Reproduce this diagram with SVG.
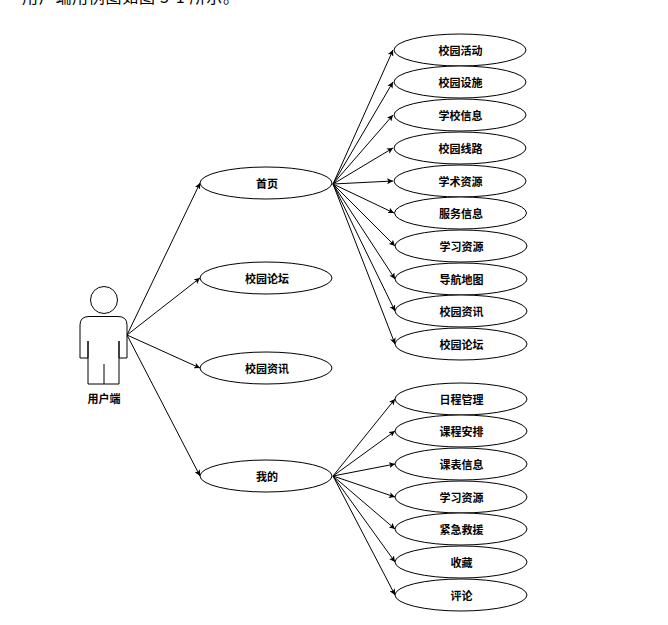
<svg xmlns="http://www.w3.org/2000/svg" width="668" height="625" viewBox="0 0 668 625">
<style>
text{font-family:"Noto Sans CJK SC","Liberation Sans",sans-serif;font-size:11px;font-weight:700;text-anchor:middle;fill:#000}
ellipse{fill:#fff;stroke:#000;stroke-width:1}
.a{fill:#fff;stroke:#000;stroke-width:1}
#connectors line{stroke:#000;stroke-width:1;marker-end:url(#h)}
</style>
<defs><marker id="h" markerUnits="userSpaceOnUse" markerWidth="7" markerHeight="6" refX="6" refY="3" orient="auto"><path d="M0 0L6 3L0 6L1.5 3Z" fill="#000"/></marker></defs>
<rect width="668" height="625" fill="#fff"/>
<text x="22" y="3" style="font-size:16px;font-weight:400;text-anchor:start;letter-spacing:.7px;font-family:'Noto Sans CJK SC','Liberation Serif',serif">用户端用例图如图 3-1 所示。</text>
<g id="connectors">
<line x1="127" y1="335" x2="200" y2="183"/><line x1="127" y1="335" x2="200" y2="278"/><line x1="127" y1="335" x2="200" y2="368"/><line x1="127" y1="335" x2="200" y2="476"/>
<line x1="333" y1="184" x2="393" y2="50"/><line x1="333" y1="184" x2="393" y2="82"/><line x1="333" y1="184" x2="393" y2="115"/><line x1="333" y1="184" x2="393" y2="148"/><line x1="333" y1="184" x2="393" y2="181"/><line x1="333" y1="184" x2="394" y2="213"/><line x1="333" y1="184" x2="395" y2="246"/><line x1="333" y1="184" x2="395" y2="279"/><line x1="333" y1="184" x2="395" y2="311"/><line x1="333" y1="184" x2="395" y2="344"/>
<line x1="333" y1="476" x2="395" y2="399"/><line x1="333" y1="476" x2="395" y2="431"/><line x1="333" y1="476" x2="395" y2="464"/><line x1="333" y1="476" x2="395" y2="497"/><line x1="333" y1="476" x2="395" y2="529"/><line x1="333" y1="476" x2="395" y2="562"/><line x1="333" y1="476" x2="395" y2="595"/>
</g>
<g id="actor">
<circle class="a" cx="104" cy="300" r="13.5"/>
<path class="a" d="M88 358H80V325Q80 316.5 89 316.5H118Q127 316.5 127 325V358H119V341M88 341V384H119V358M104 364V384M119 341V358M88 341V358"/>
<text x="104" y="402.500">用户端</text>
</g>
<g id="n1"><ellipse cx="266" cy="183" rx="66" ry="16"/><text x="267" y="188">首页</text></g>
<g id="n2"><ellipse cx="266" cy="278" rx="66" ry="16"/><text x="267" y="283">校园论坛</text></g>
<g id="n3"><ellipse cx="266" cy="368" rx="66" ry="16"/><text x="267" y="373">校园资讯</text></g>
<g id="n4"><ellipse cx="266" cy="476" rx="66" ry="16"/><text x="267" y="481">我的</text></g>
<g id="t1"><ellipse cx="460" cy="50" rx="66" ry="16"/><text x="460.5" y="55">校园活动</text></g>
<g id="t2"><ellipse cx="460" cy="82" rx="66" ry="16"/><text x="460.5" y="87">校园设施</text></g>
<g id="t3"><ellipse cx="460" cy="115" rx="66" ry="16"/><text x="460.5" y="120">学校信息</text></g>
<g id="t4"><ellipse cx="460" cy="148" rx="66" ry="16"/><text x="460.5" y="153">校园线路</text></g>
<g id="t5"><ellipse cx="460" cy="181" rx="66" ry="16"/><text x="460.5" y="186">学术资源</text></g>
<g id="t6"><ellipse cx="460.5" cy="213" rx="66" ry="16"/><text x="461" y="218">服务信息</text></g>
<g id="t7"><ellipse cx="461" cy="246" rx="66" ry="16"/><text x="461.5" y="251">学习资源</text></g>
<g id="t8"><ellipse cx="461" cy="279" rx="66" ry="16"/><text x="461.5" y="284">导航地图</text></g>
<g id="t9"><ellipse cx="461" cy="311" rx="66" ry="16"/><text x="461.5" y="316">校园资讯</text></g>
<g id="t10"><ellipse cx="461" cy="344" rx="66" ry="16"/><text x="461.5" y="349">校园论坛</text></g>
<g id="b1"><ellipse cx="461" cy="399" rx="66" ry="16"/><text x="461.5" y="404">日程管理</text></g>
<g id="b2"><ellipse cx="461" cy="431" rx="66" ry="16"/><text x="461.5" y="436">课程安排</text></g>
<g id="b3"><ellipse cx="461" cy="464" rx="66" ry="16"/><text x="461.5" y="469">课表信息</text></g>
<g id="b4"><ellipse cx="461" cy="497" rx="66" ry="16"/><text x="461.5" y="502">学习资源</text></g>
<g id="b5"><ellipse cx="461" cy="529" rx="66" ry="16"/><text x="461.5" y="534">紧急救援</text></g>
<g id="b6"><ellipse cx="461" cy="562" rx="66" ry="16"/><text x="461.5" y="567">收藏</text></g>
<g id="b7"><ellipse cx="461" cy="595" rx="66" ry="16"/><text x="461.5" y="600">评论</text></g>
</svg>
